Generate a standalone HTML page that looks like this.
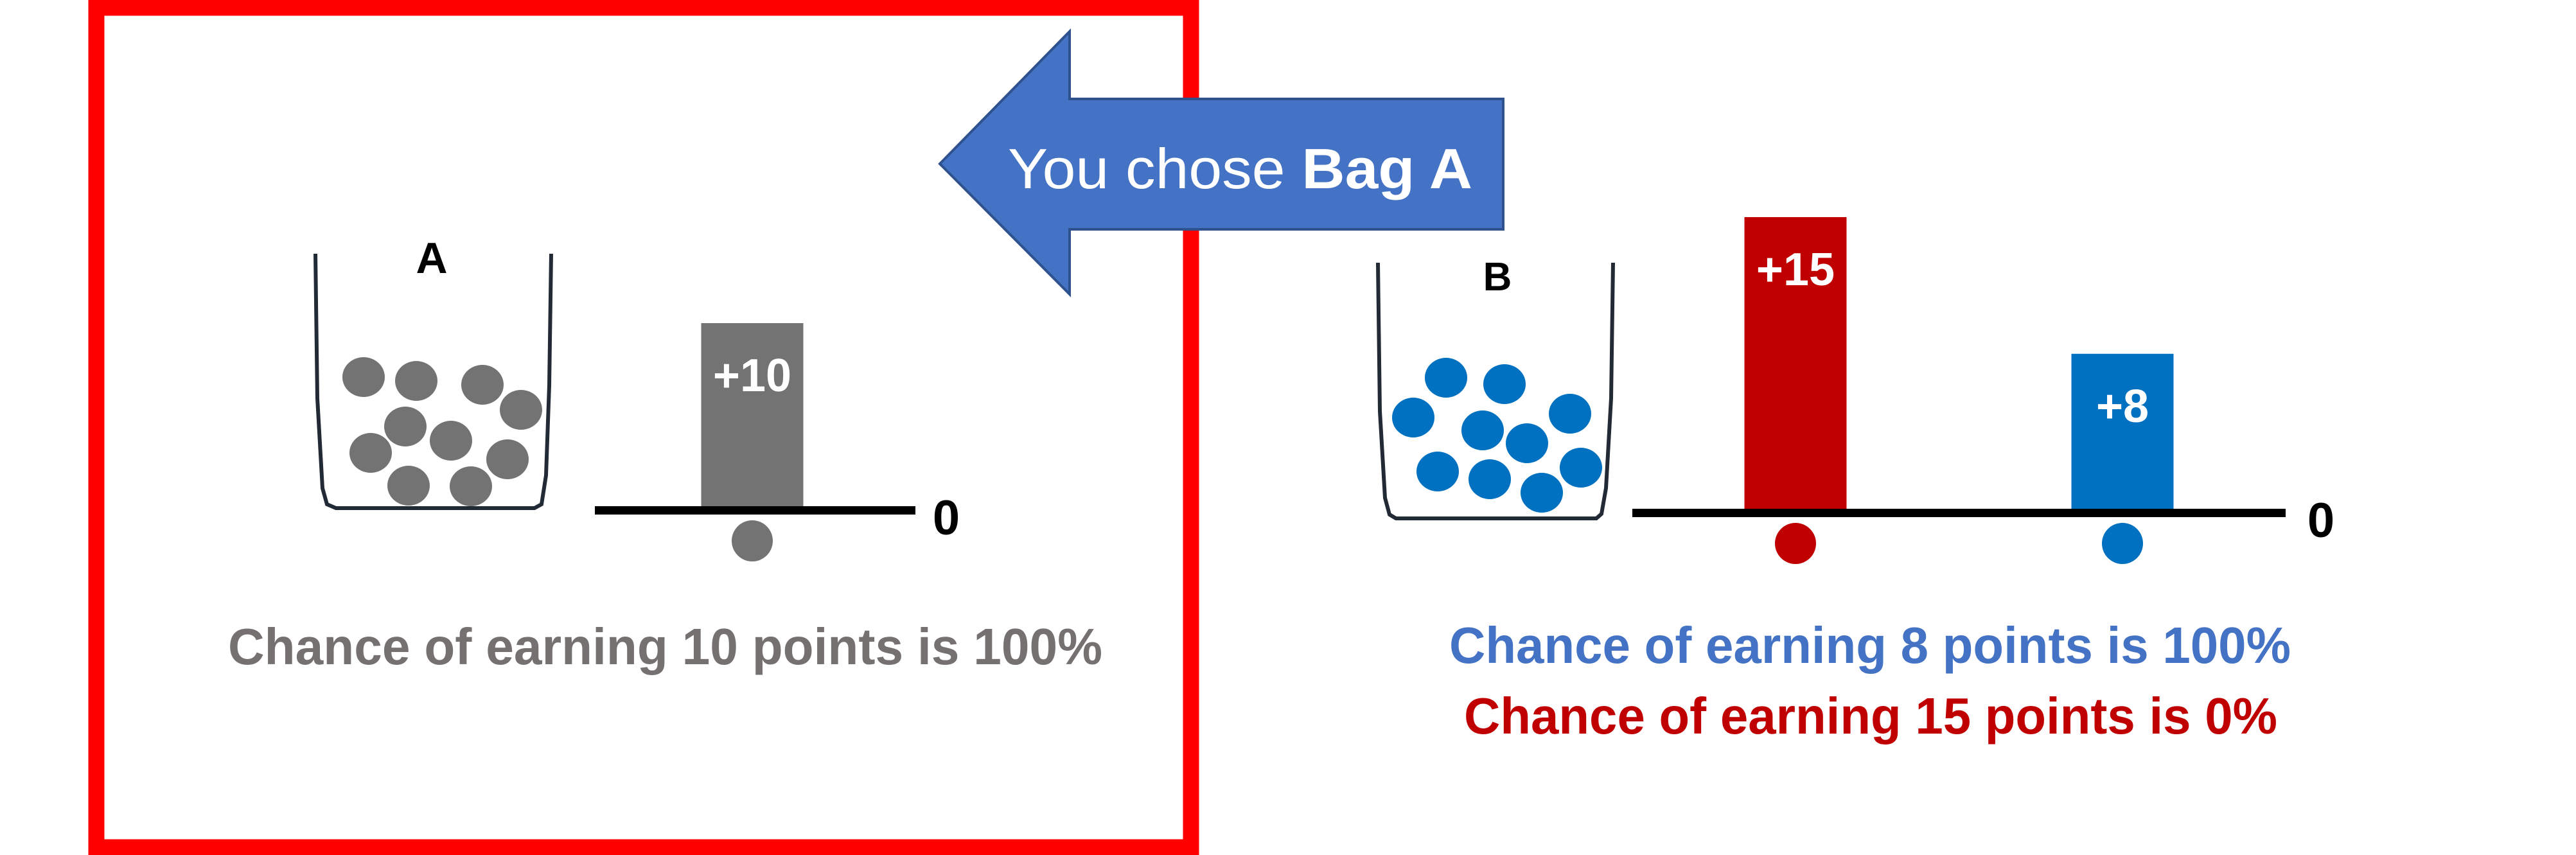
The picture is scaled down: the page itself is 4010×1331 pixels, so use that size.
<!DOCTYPE html>
<html><head><meta charset="utf-8"><style>
html,body{margin:0;padding:0;background:#fff;}
svg{display:block;}
text{font-family:"Liberation Sans",sans-serif;font-weight:bold;}
</style></head><body>
<svg id="chart" width="4010" height="1331" viewBox="0 0 4010 1331" xmlns="http://www.w3.org/2000/svg">
<rect x="0" y="0" width="4010" height="1331" fill="#fff"/>
<rect x="150" y="12" width="1704" height="1307" fill="none" stroke="#ff0000" stroke-width="25"/>
<g>
<polygon points="1463,255 1665,49 1665,154 2340,154 2340,357 1665,357 1665,458" fill="#4472C4" stroke="#2F528F" stroke-width="4"/>
<text x="1569" y="293" font-size="88" fill="#fff" style="font-weight:normal" textLength="723" lengthAdjust="spacingAndGlyphs">You chose <tspan style="font-weight:bold">Bag A</tspan></text>
</g>
<path d="M491,395 L494,620 L502,760 L509,785 L523,791 L832,791 L843,785 L850,740 L855,600 L858,395" fill="none" stroke="#222a35" stroke-width="6"/>
<text x="672" y="425" font-size="68" text-anchor="middle" fill="#000">A</text>
<path d="M2145,409 L2148,640 L2156,775 L2163,801 L2173,807 L2485,807 L2493,800 L2500,760 L2508,620 L2511,409" fill="none" stroke="#222a35" stroke-width="6"/>
<text x="2331" y="452" font-size="62" text-anchor="middle" fill="#000">B</text>
<g id="marks"></g>
<text x="355" y="1034" font-size="80" fill="#767171" textLength="1361" lengthAdjust="spacingAndGlyphs">Chance of earning 10 points is 100%</text>
<text x="2256" y="1032" font-size="80" fill="#4472C4" textLength="1310" lengthAdjust="spacingAndGlyphs">Chance of earning 8 points is 100%</text>
<text x="2279" y="1142" font-size="80" fill="#C00000" textLength="1266" lengthAdjust="spacingAndGlyphs">Chance of earning 15 points is 0%</text>
</svg>
<script>
const aLabels = ["+10"];
const aValues = [10];
const bLabels = ["+15", "+8"];
const bValues = [15, 8];
const aBallsX = [566,648,751,811,631,702,577,790,636,733];
const aBallsY = [587,593,599,638,664,686,705,715,756,757];
const bBallsX = [2251,2342,2200,2444,2308,2377,2238,2319,2461,2400];
const bBallsY = [588,598,650,644,670,690,734,746,728,767];

const NS = "http://www.w3.org/2000/svg";
const g = document.getElementById("marks");
function mk(tag, attrs){const e=document.createElementNS(NS,tag);for(const k in attrs)e.setAttribute(k,attrs[k]);g.appendChild(e);return e;}

function panel(values, labels, cfg){
  const y = v => cfg.base - v * cfg.scale;
  values.forEach((v,i)=>{
    const cx = cfg.centers[i];
    const r = mk("rect",{x:cx-cfg.w/2,y:y(v),width:cfg.w,height:cfg.base-y(v),fill:cfg.colors[i]});
    
    
    const t = mk("text",{x:cx,y:y(v)+106,"font-size":72,"text-anchor":"middle",fill:"#fff"});
    t.textContent = labels[i];
    
    
    const c = mk("circle",{cx:cx,cy:cfg.base+52,r:32,fill:cfg.colors[i]});
    
    
  });
  const ax = mk("rect",{x:cfg.x0,y:cfg.base-2,width:cfg.x1-cfg.x0,height:13,fill:"#000"});
  
  
  const z = mk("text",{x:cfg.zx,y:cfg.base+42,"font-size":76,"text-anchor":"middle",fill:"#000"});
  z.textContent = "0";
  
  
}
panel(aValues, aLabels, {id:"a", base:790, scale:28.7, w:159, centers:[1171], colors:["#737373"], x0:926, x1:1425, zx:1473});
panel(bValues, bLabels, {id:"b", base:794, scale:30.4, w:159, centers:[2795,3304], colors:["#C00000","#0070C0"], x0:2541, x1:3558, zx:3613});

aBallsX.forEach((x,i)=>{
  const c = mk("ellipse",{cx:x,cy:aBallsY[i],rx:33,ry:31,fill:"#737373"});
  
  
});
bBallsX.forEach((x,i)=>{
  const c = mk("ellipse",{cx:x,cy:bBallsY[i],rx:33,ry:31,fill:"#0070C0"});
  
  
});
</script>
</body></html>
